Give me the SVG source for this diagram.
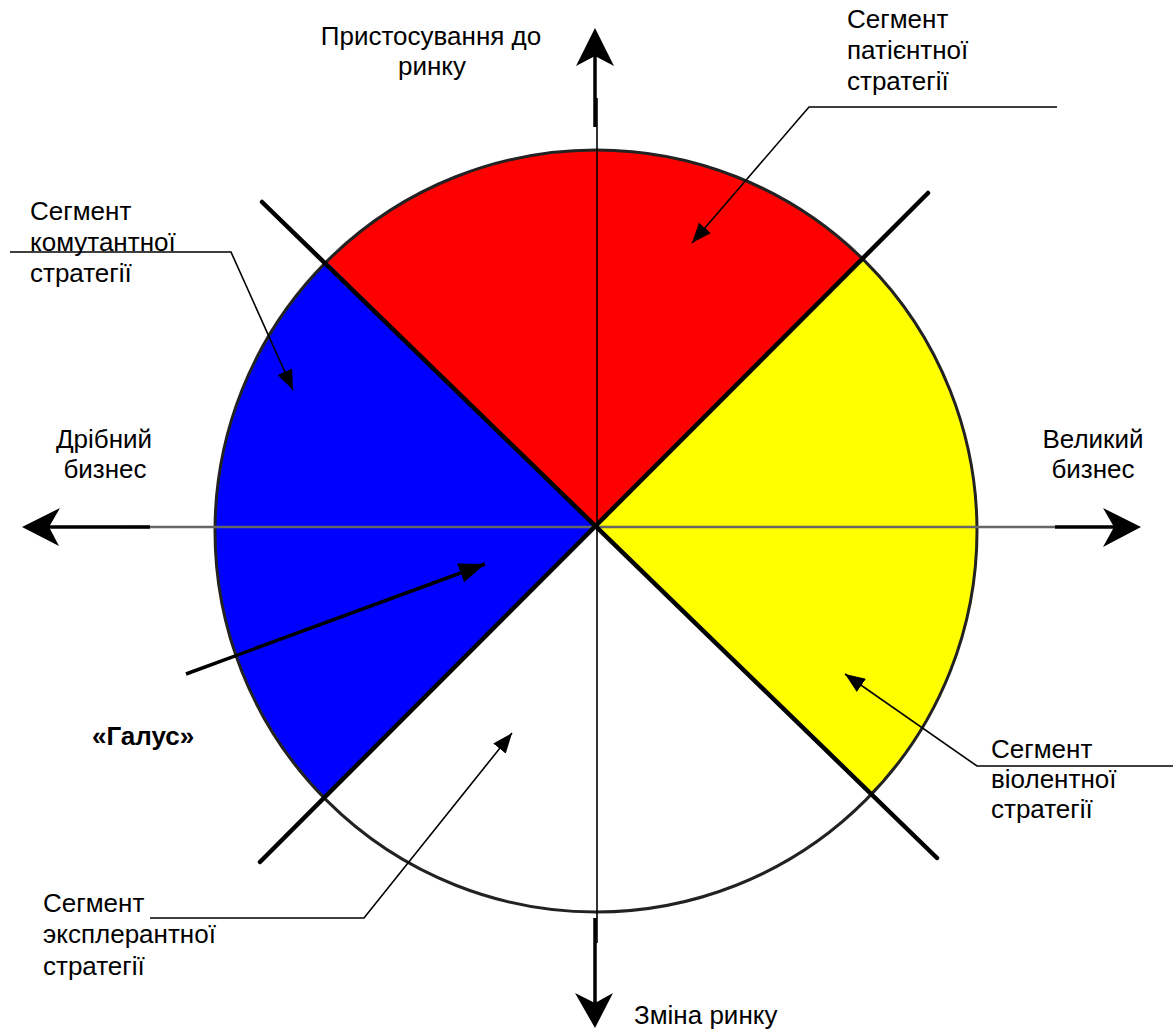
<svg xmlns="http://www.w3.org/2000/svg" width="1173" height="1032" viewBox="0 0 1173 1032">
<style>
.t{font-family:"Liberation Sans",Arial,sans-serif;font-size:26px;fill:#000}
.b{font-weight:bold}
.c{text-anchor:middle}
.lead{fill:none;stroke:#000;stroke-width:1.6}
.diag{stroke:#000;stroke-width:4.5;stroke-linecap:round}
.shaft{stroke:#000;stroke-width:3.5}
</style>
<defs>
<marker id="ah" viewBox="0 0 20 16" refX="20" refY="8" markerWidth="20" markerHeight="16" markerUnits="userSpaceOnUse" orient="auto">
<path d="M0,0 L20,8 L0,16 Z" fill="#000"/>
</marker>
<marker id="ahb" viewBox="0 0 26 20" refX="26" refY="10" markerWidth="26" markerHeight="20" markerUnits="userSpaceOnUse" orient="auto">
<path d="M0,0 L26,10 L0,20 Z" fill="#000"/>
</marker>
</defs>
<rect width="1173" height="1032" fill="#fff"/>
<g id="sectors">
<path d="M596,527 L327,262 A381,381 0 0 1 862,257 Z" fill="#ff0000"/>
<path d="M596,527 L862,257 A381,381 0 0 1 870,795 Z" fill="#ffff00"/>
<path d="M596,527 L323,797 A381,381 0 0 1 327,262 Z" fill="#0000ff"/>
<circle cx="596" cy="531" r="381" fill="none" stroke="#222" stroke-width="3"/>
</g>
<g id="axes">
<line x1="597" y1="98" x2="597" y2="943" stroke="#000" stroke-width="1.6"/>
<line x1="121" y1="527" x2="1055" y2="527" stroke="#666" stroke-width="2.5"/>
<line class="shaft" x1="595" y1="127" x2="595" y2="52"/>
<path d="M595,28 L614,66 L595,56 L576,66 Z" fill="#000"/>
<line class="shaft" x1="595" y1="918" x2="595" y2="1004"/>
<path d="M595,1028 L613,993 L595,1003 L575,993 Z" fill="#000"/>
<line class="shaft" x1="150" y1="527" x2="48" y2="527"/>
<path d="M22,527 L60,508 L49,527 L59,546 Z" fill="#000"/>
<line class="shaft" x1="1055" y1="527" x2="1116" y2="527"/>
<path d="M1141,527 L1103,508 L1114,527 L1103,547 Z" fill="#000"/>
<line class="diag" x1="262" y1="202" x2="937" y2="858"/>
<line class="diag" x1="928" y1="193" x2="260" y2="862"/>
</g>
<g id="connectors">
<polyline class="lead" points="1057,107 809,107 692,243" marker-end="url(#ah)"/>
<polyline class="lead" points="10,252 231,252 293,390" marker-end="url(#ah)"/>
<polyline class="lead" points="1173,766 977,766 845,674" marker-end="url(#ah)"/>
<polyline class="lead" points="150,918 364,918 512,733" marker-end="url(#ah)"/>
<line x1="186" y1="674" x2="485" y2="564" stroke="#000" stroke-width="3.5" marker-end="url(#ahb)"/>
</g>
<g id="label-top"><text class="t c" x="431" y="45">Пристосування до</text><text class="t c" x="432" y="75">ринку</text></g>
<g id="label-bottom"><text class="t" x="634" y="1024">Зміна ринку</text></g>
<g id="label-left"><text class="t c" x="104" y="448">Дрібний</text><text class="t c" x="105" y="478">бизнес</text></g>
<g id="label-right"><text class="t c" x="1093" y="448">Великий</text><text class="t c" x="1093" y="478">бизнес</text></g>
<g id="label-patient"><text class="t" x="847" y="28">Сегмент</text><text class="t" x="847" y="59">патієнтної</text><text class="t" x="847" y="90">стратегії</text></g>
<g id="label-komutant"><text class="t" x="30" y="220">Сегмент</text><text class="t" x="30" y="251">комутантної</text><text class="t" x="30" y="282">стратегії</text></g>
<g id="label-violent"><text class="t" x="991" y="758">Сегмент</text><text class="t" x="991" y="788">віолентної</text><text class="t" x="991" y="818">стратегії</text></g>
<g id="label-explerant"><text class="t" x="43" y="912">Сегмент</text><text class="t" x="43" y="943">эксплерантної</text><text class="t" x="43" y="975">стратегії</text></g>
<g id="label-galus"><text class="t b" x="92" y="745">«Галус»</text></g>
</svg>
